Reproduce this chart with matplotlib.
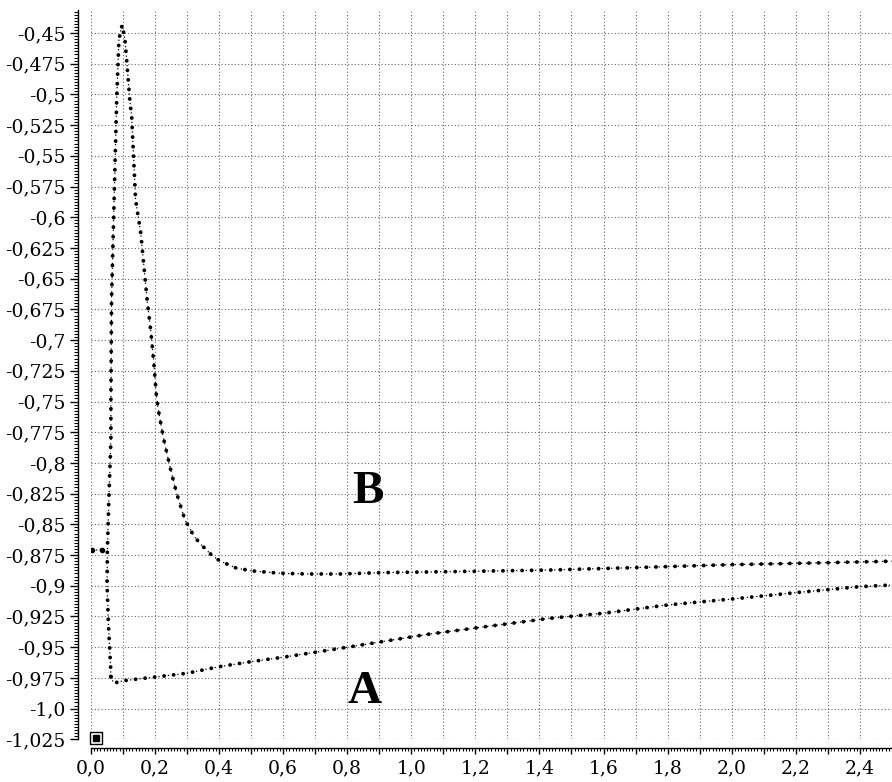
import numpy as np
import matplotlib
matplotlib.use('Agg')
import matplotlib.pyplot as plt
from matplotlib.ticker import FixedLocator, FixedFormatter, MultipleLocator

# Curve B: rising branch from the bottom, peak, then decay
b_x = [0.063, 0.062, 0.055, 0.051, 0.052, 0.057, 0.063, 0.063, 0.065, 0.073,
       0.081, 0.088, 0.098, 0.107, 0.122, 0.128, 0.140, 0.156, 0.176, 0.188,
       0.198, 0.204, 0.211, 0.226, 0.247, 0.268, 0.294, 0.320, 0.340, 0.377,
       0.403, 0.455, 0.507, 0.590, 0.673, 0.777, 0.912, 1.200, 1.431, 1.700,
       2.000, 2.250, 2.500]
b_y = [-0.974, -0.966, -0.930, -0.899, -0.871, -0.826, -0.781, -0.748, -0.667, -0.586,
       -0.5045, -0.4555, -0.4433, -0.4555, -0.5044, -0.5191, -0.5858, -0.6127, -0.6673, -0.6941,
       -0.7218, -0.7430, -0.7568, -0.7786, -0.8030, -0.8247, -0.8464, -0.8586, -0.8654, -0.8749,
       -0.8798, -0.8857, -0.8880, -0.8898, -0.8904, -0.8904, -0.8893, -0.8882, -0.8872, -0.8852,
       -0.8828, -0.8815, -0.8800]

# Curve A: from the minimum, slowly rising
a_x = [0.063, 0.066, 0.076, 0.102, 0.299, 0.400, 0.500, 0.600, 0.746, 1.057,
       1.431, 1.600, 1.800, 2.000, 2.200, 2.400, 2.500]
a_y = [-0.974, -0.977, -0.979, -0.9773, -0.9713, -0.9659, -0.9618, -0.9582, -0.9523, -0.9393,
       -0.9265, -0.9224, -0.9156, -0.9108, -0.9056, -0.9007, -0.8994]

# two starting points
s_x = [0.003, 0.034]
s_y = [-0.871, -0.871]

y_ticks = [-0.45, -0.475, -0.5, -0.525, -0.55, -0.575, -0.6, -0.625, -0.65, -0.675,
           -0.7, -0.725, -0.75, -0.775, -0.8, -0.825, -0.85, -0.875, -0.9, -0.925,
           -0.95, -0.975, -1.0, -1.025]
y_labels = ['-0,45', '-0,475', '-0,5', '-0,525', '-0,55', '-0,575', '-0,6', '-0,625',
            '-0,65', '-0,675', '-0,7', '-0,725', '-0,75', '-0,775', '-0,8', '-0,825',
            '-0,85', '-0,875', '-0,9', '-0,925', '-0,95', '-0,975', '-1,0', '-1,025']
x_ticks = [0.0, 0.1, 0.2, 0.3, 0.4, 0.5, 0.6, 0.7, 0.8, 0.9, 1.0, 1.1, 1.2,
           1.3, 1.4, 1.5, 1.6, 1.7, 1.8, 1.9, 2.0, 2.1, 2.2, 2.3, 2.4]
x_labels = ['0,0', '', '0,2', '', '0,4', '', '0,6', '', '0,8', '', '1,0', '', '1,2',
            '', '1,4', '', '1,6', '', '1,8', '', '2,0', '', '2,2', '', '2,4']

fig = plt.figure(figsize=(8.92, 7.82), dpi=100)
ax = fig.add_axes([0.1017, 0.0546, 0.8983, 0.9332])
ax.set_xlim(0, 2.5)
ax.set_ylim(-1.025, -0.4309)

# grid
ax.grid(True, which='major', color='0.4', lw=0.8, ls=(0, (1, 2)))
ax.set_axisbelow(True)


def dotted_curve(x, y):
    # thin dotted link + big round dots
    ax.plot(x, y, color='k', lw=1.1, ls=(0, (0.01, 3.1)), dash_capstyle='round')
    ax.plot(x, y, color='k', lw=2.8, ls=(0, (0.01, 2.45)), dash_capstyle='round')


dotted_curve(b_x, b_y)
dotted_curve(a_x, a_y)
dotted_curve(s_x, s_y)
ax.plot(s_x, s_y, 'o', color='k', ms=3)

# small box marker in the corner
ax.plot([0.017], [-1.0243], 's', ms=8, mfc='white', mec='k', mew=1, clip_on=False)
ax.plot([0.017], [-1.0243], 's', ms=4, color='k', clip_on=False)

ax.text(0.864, -0.8236, 'B', fontsize=34, fontweight='bold', family='Liberation Serif',
        ha='center', va='center')
ax.text(0.855, -0.9865, 'A', fontsize=34, fontweight='bold', family='Liberation Serif',
        ha='center', va='center')

# axes look
for s in ['top', 'right']:
    ax.spines[s].set_visible(False)
ax.spines['left'].set_position(('outward', 9.5))
ax.spines['bottom'].set_position(('outward', 6.3))
ax.spines['left'].set_linewidth(1.0)
ax.spines['bottom'].set_linewidth(1.0)

ax.yaxis.set_major_locator(FixedLocator(y_ticks))
ax.yaxis.set_major_formatter(FixedFormatter(y_labels))
ax.yaxis.set_minor_locator(MultipleLocator(0.0025))
ax.xaxis.set_major_locator(FixedLocator(x_ticks))
ax.xaxis.set_major_formatter(FixedFormatter(x_labels))
ax.xaxis.set_minor_locator(MultipleLocator(0.01))

ax.tick_params(axis='y', which='major', direction='out', length=5.5, width=1, pad=3)
ax.tick_params(axis='y', which='minor', direction='out', length=3, width=0.8)
ax.tick_params(axis='x', which='major', direction='out', length=4.5, width=1, pad=4)
ax.tick_params(axis='x', which='minor', direction='out', length=2.5, width=0.8)
for lab in ax.get_xticklabels() + ax.get_yticklabels():
    lab.set_family('DejaVu Serif')
    lab.set_fontsize(13.5)

plt.savefig('out.png', dpi=100)
plt.close()
